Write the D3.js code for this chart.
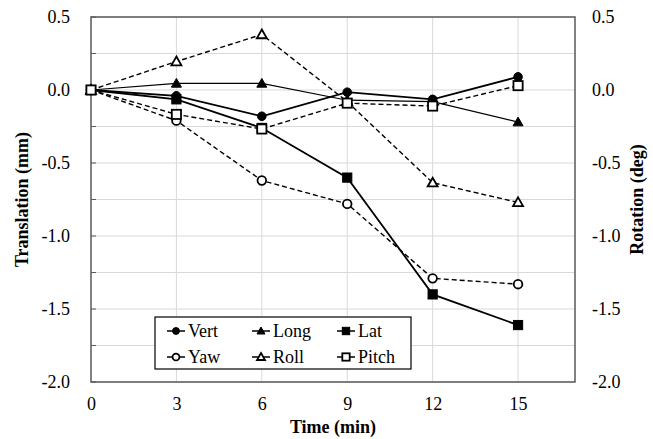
<!DOCTYPE html>
<html><head><meta charset="utf-8">
<script src="https://cdn.jsdelivr.net/npm/d3@7"></script>
</head><body style="margin:0;background:#fff">
<script>
const times = [0, 3, 6, 9, 12, 15];
const vert  = [0, -0.04, -0.18, -0.015, -0.064, 0.09];
const long  = [0, 0.045, 0.045, -0.07, -0.08, -0.22];
const lat   = [0, -0.064, -0.26, -0.60, -1.40, -1.61];
const yaw   = [0, -0.21, -0.62, -0.78, -1.29, -1.33];
const roll  = [0, 0.195, 0.38, -0.08, -0.635, -0.77];
const pitch = [0, -0.167, -0.267, -0.09, -0.11, 0.03];
const yTicks = [0.5, 0.0, -0.5, -1.0, -1.5, -2.0];
const xTicks = [0, 3, 6, 9, 12, 15];

const series = [
  {name:"Vert", values:vert, marker:"circle", fill:"#000", dash:null, w:1.8},
  {name:"Long", values:long, marker:"triangle", fill:"#000", dash:null, w:1.2},
  {name:"Lat", values:lat, marker:"square", fill:"#000", dash:null, w:1.8},
  {name:"Yaw", values:yaw, marker:"circle", fill:"#fff", dash:"5,3", w:1.4},
  {name:"Roll", values:roll, marker:"triangle", fill:"#fff", dash:"5,3", w:1.4},
  {name:"Pitch", values:pitch, marker:"square", fill:"#fff", dash:"5,3", w:1.4}
];

const W = 653, H = 439;
const L = 91, R = 575, T = 17, B = 382;
const svg = d3.select("body").append("svg").attr("width", W).attr("height", H).style("display", "block");
const x = d3.scaleLinear().domain([0, 17]).range([L, R]);
const y = d3.scaleLinear().domain([-2, 0.5]).range([B, T]);

// gridlines
const gy = d3.range(-2, 0.5001, 0.25);
svg.append("g").selectAll("line").data(gy).join("line")
  .attr("x1", L).attr("x2", R).attr("y1", d => y(d)).attr("y2", d => y(d))
  .attr("stroke", "#d9d9d9").attr("stroke-width", 1);
svg.append("g").selectAll("line").data(xTicks.slice(1)).join("line")
  .attr("x1", d => x(d)).attr("x2", d => x(d)).attr("y1", T).attr("y2", B)
  .attr("stroke", "#d9d9d9").attr("stroke-width", 1);

// axes
const fmt = d => d3.format(".1f")(d).replace("\u2212", "-");
const left = svg.append("g").attr("transform", `translate(${L},0)`)
  .call(d3.axisLeft(y).tickValues(yTicks).tickFormat(fmt).tickSize(0).tickPadding(21));
const right = svg.append("g").attr("transform", `translate(${R},0)`)
  .call(d3.axisRight(y).tickValues(yTicks).tickFormat(fmt).tickSize(0).tickPadding(17));
const bottom = svg.append("g").attr("transform", `translate(0,${B})`)
  .call(d3.axisBottom(x).tickValues(xTicks).tickFormat(d3.format("d")).tickSize(0).tickPadding(15));
[left, right, bottom].forEach(g => {
  g.select(".domain").remove();
  g.attr("font-family", null).attr("font-size", null);
  g.selectAll("text").style("font-size", "18px");
});
// inner ticks on left axis
svg.append("g").selectAll("line").data(gy).join("line")
  .attr("x1", L).attr("x2", L + 5).attr("y1", d => y(d)).attr("y2", d => y(d))
  .attr("stroke", "#595959").attr("stroke-width", 1);

// frame
svg.append("rect").attr("x", L).attr("y", T).attr("width", R - L).attr("height", B - T)
  .attr("fill", "none").attr("stroke", "#595959").attr("stroke-width", 1.5);

// titles
svg.append("text").attr("x", x(8.5)).attr("y", 433).attr("text-anchor", "middle")
  .style("font-size", "18px").attr("font-weight", "bold").text("Time (min)");
svg.append("text").attr("transform", `translate(28,${y(-0.75)}) rotate(-90)`).attr("text-anchor", "middle")
  .style("font-size", "18px").attr("font-weight", "bold").text("Translation (mm)");
svg.append("text").attr("transform", `translate(643,${y(-0.75)}) rotate(-90)`).attr("text-anchor", "middle")
  .style("font-size", "18px").attr("font-weight", "bold").text("Rotation (deg)");

function drawMarker(g, type, fill, cx, cy, scale) {
  const s = scale || 1;
  const sw = fill === "#000" ? 1 : 1.8;
  if (type === "circle") {
    g.append("circle").attr("cx", cx).attr("cy", cy).attr("r", 4.3 * s)
      .attr("fill", fill).attr("stroke", "#000").attr("stroke-width", sw);
  } else if (type === "square") {
    const h = 4.6 * s;
    g.append("rect").attr("x", cx - h).attr("y", cy - h).attr("width", 2 * h).attr("height", 2 * h)
      .attr("fill", fill).attr("stroke", "#000").attr("stroke-width", sw);
  } else {
    const h = 5 * s;
    g.append("path").attr("d", `M${cx},${cy - h}L${cx + h},${cy + h * 0.75}L${cx - h},${cy + h * 0.75}Z`)
      .attr("fill", fill).attr("stroke", "#000").attr("stroke-width", sw);
  }
}

const line = d3.line().x((d, i) => x(times[i])).y(d => y(d));
const plot = svg.append("g");
series.forEach(s => {
  plot.append("path").attr("d", line(s.values)).attr("fill", "none")
    .attr("stroke", "#000").attr("stroke-width", s.w)
    .attr("stroke-dasharray", s.dash);
});
series.forEach(s => {
  const g = plot.append("g");
  s.values.forEach((v, i) => drawMarker(g, s.marker, s.fill, x(times[i]), y(v)));
});

// legend
const lg = svg.append("g");
lg.append("rect").attr("x", 155).attr("y", 317).attr("width", 256).attr("height", 52)
  .attr("fill", "#fff").attr("stroke", "#000").attr("stroke-width", 1.2);
series.forEach((s, i) => {
  const col = i % 3, row = Math.floor(i / 3);
  const lx = 167 + col * 85, ly = 331 + row * 26;
  lg.append("line").attr("x1", lx).attr("x2", lx + 18).attr("y1", ly).attr("y2", ly)
    .attr("stroke", "#000").attr("stroke-width", 1.5);
  drawMarker(lg, s.marker, s.fill, lx + 9, ly, 0.8);
  lg.append("text").attr("x", lx + 21).attr("y", ly + 6).style("font-size", "18px").text(s.name);
});

svg.selectAll("text").style("font-family", '"Liberation Serif"').style("fill", "#000");
</script>
</body></html>
